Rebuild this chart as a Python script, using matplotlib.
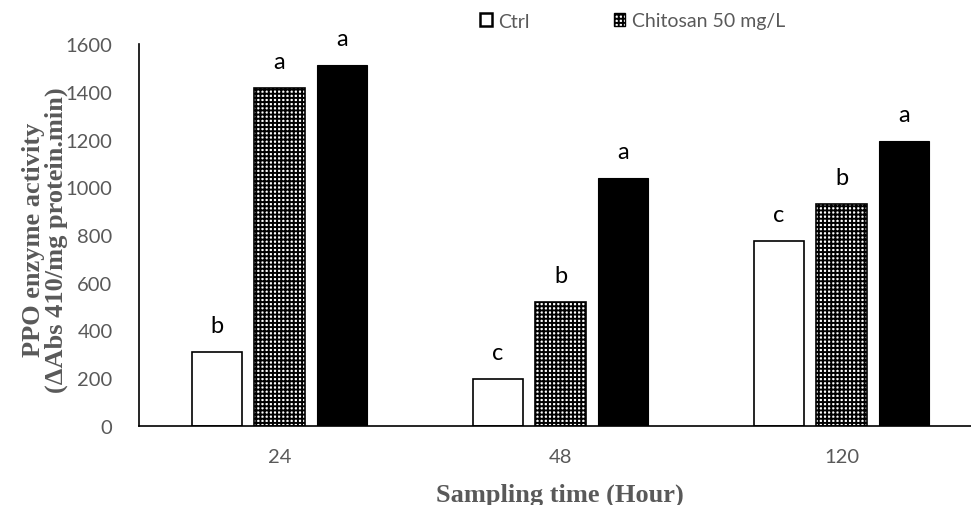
import numpy as np
import matplotlib
matplotlib.use("Agg")
import matplotlib.pyplot as plt
from matplotlib.patches import Patch

# values
hours = ["24", "48", "120"]
ctrl = [311, 197, 776]
chito50 = [1416, 518, 930]
chito_hi = [1512, 1038, 1193]
letters_ctrl = ["b", "c", "c"]
letters_50 = ["a", "b", "b"]
letters_hi = ["a", "a", "a"]

GRAY = "#595959"
SANS = ["Lato", "DejaVu Sans"]
SERIF = ["Liberation Serif", "DejaVu Serif"]
HATCH = "++++"

plt.rcParams["hatch.linewidth"] = 1.4

fig = plt.figure(figsize=(9.71, 5.06), dpi=100)
ax = fig.add_axes([139 / 971, 1 - 427 / 506, (982 - 139) / 971, (427 - 45) / 506])

x = np.arange(len(hours))
w = 0.178
off = 0.224

b1 = ax.bar(x - off, ctrl, w, facecolor="white", edgecolor="black", linewidth=1.2)
b2 = ax.bar(x, chito50, w, facecolor="white", edgecolor="black", linewidth=1.2,
            hatch=HATCH)
b3 = ax.bar(x + off, chito_hi, w, facecolor="black", edgecolor="black", linewidth=0.8)

for bars, labs in ((b1, letters_ctrl), (b2, letters_50), (b3, letters_hi)):
    for r, lab in zip(bars, labs):
        ax.annotate(lab, (r.get_x() + r.get_width() / 2, r.get_height()),
                    xytext=(0, 14.5), textcoords="offset points",
                    ha="center", va="baseline", fontsize=17, family=SANS,
                    color="black")

ax.set_xlim(-0.5, 2.5)
ax.set_ylim(0, 1600)
ax.set_yticks(np.arange(0, 1601, 200))
ax.set_xticks(x)
ax.set_xticklabels(hours)
ax.tick_params(length=0, labelsize=14.5, labelcolor=GRAY)
for lab in ax.get_xticklabels() + ax.get_yticklabels():
    lab.set_family(SANS)
ax.tick_params(axis="x", pad=16)
ax.tick_params(axis="y", pad=19)
for s in ("top", "right"):
    ax.spines[s].set_visible(False)
for s in ("left", "bottom"):
    ax.spines[s].set_linewidth(1.2)
    ax.spines[s].set_color("black")

fig.text(560 / 971, 1 - 495 / 506, "Sampling time (Hour)", ha="center", va="center",
         fontsize=19, fontweight="bold", family=SERIF, color=GRAY)
fig.text(45 / 971, 1 - 240 / 506, "PPO enzyme activity\n(\u0394Abs 410/mg protein.min)",
         ha="center", va="center", rotation=90, fontsize=19, fontweight="bold",
         family=SERIF, color=GRAY, linespacing=0.95)

handles = [Patch(facecolor="white", edgecolor="black", linewidth=1.8),
           Patch(facecolor="white", edgecolor="black", hatch=HATCH)]
leg = fig.legend(handles, ["Ctrl", "Chitosan 50 mg/L"], ncol=2,
                 loc="center left", bbox_to_anchor=(480 / 971, 1 - 22 / 506),
                 frameon=False, prop={"family": SANS, "size": 14},
                 handlelength=0.6, handleheight=0.6, handletextpad=0.35,
                 columnspacing=4.3, borderaxespad=0, borderpad=0)
for t in leg.get_texts():
    t.set_color(GRAY)

fig.savefig("out.png", dpi=100)
